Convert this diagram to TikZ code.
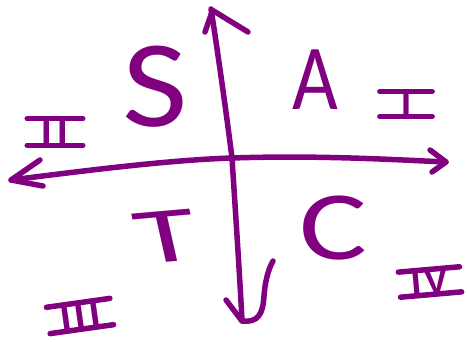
\documentclass[tikz,border=0pt]{standalone}
\usepackage{fontspec}
\setmainfont{Liberation Sans}
\newfontfamily\thinfont{Carlito}
\definecolor{ink}{HTML}{800080}
\begin{document}
\begin{tikzpicture}[x=1pt,y=-1pt,
  stroke/.style={draw=ink,line width=5.5pt,line cap=round,line join=round},
  letter/.style={text=ink,inner sep=0pt,font=\thinfont\fontsize{#1}{#1}\selectfont},
  numeral/.style={text=ink,inner ysep=0pt,text depth=0pt,font=\bfseries\fontsize{#1}{#1}\selectfont}]
\useasboundingbox (0,0) rectangle (467,342);
% axes
\coordinate (top) at (211,9);
\coordinate (mid) at (232,158);
\coordinate (bot) at (242,321);
\coordinate (left) at (11,180);
\coordinate (right) at (446,162);
\draw[stroke] (top) .. controls (216,40) and (226,110) .. (mid) .. controls (236,220) and (240,280) .. (bot);
\draw[stroke] (205,32) -- (212,12) (212,10) -- (248,32);
\draw[stroke] (226,300) -- (bot) .. controls (258,323) and (263,314) .. (264,296) .. controls (265,282) and (268,270) .. (273,261);
\draw[stroke] (left) .. controls (90,170) and (170,160) .. (mid) .. controls (320,155) and (400,160) .. (right);
\draw[stroke] (40,160) -- (left) -- (43,186);
\draw[stroke] (430,150) -- (right) -- (432,172);
% letters
\node[letter=124,xscale=1.15] (S) at (155,87) {S};
\node[letter=93,xscale=0.85] (A) at (315,80) {A};
\node[letter=79,xscale=1.6,rotate=8] (T) at (166,237) {T};
\node[letter=98,xscale=1.3] (C) at (333,228) {C};
% numerals
\node[numeral=36,inner xsep=21pt] (n1) at (406,104) {I};
\node[numeral=38,inner xsep=14pt] (n2) at (55,132) {I\hspace{6pt}I};
\node[numeral=38,inner xsep=12pt,rotate=8] (n3) at (80,316) {I\hspace{4pt}I\hspace{4pt}I};
\node[numeral=36,inner xsep=12pt,rotate=5] (n4) at (430,282) {I\hspace{3pt}V};
\foreach \n in {n1,n2,n3,n4}{
  \draw[stroke] (\n.north west) -- (\n.north east);
  \draw[stroke] (\n.south west) -- (\n.south east);
}
\end{tikzpicture}
\end{document}
